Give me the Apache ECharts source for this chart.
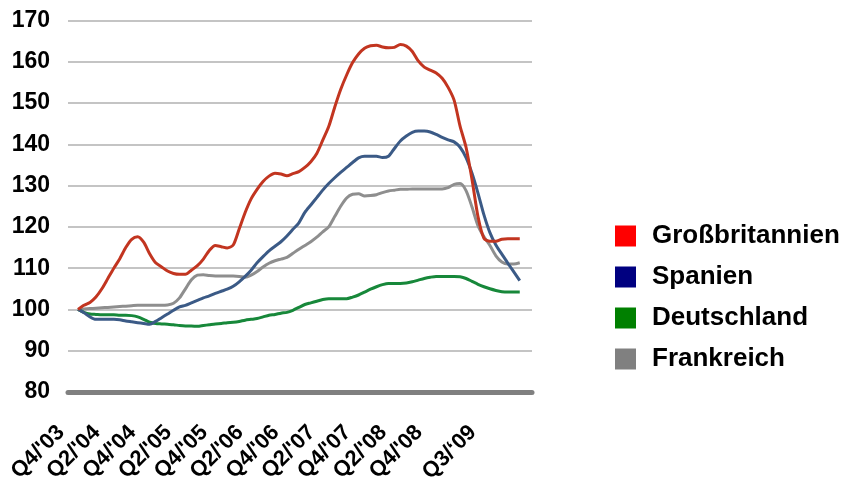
<!DOCTYPE html>
<html>
<head>
<meta charset="utf-8">
<script src="https://cdn.jsdelivr.net/npm/echarts@6/dist/echarts.min.js"></script>
<style>
html,body{margin:0;padding:0;background:#fff;}
#chart{width:845px;height:477px;}
</style>
</head>
<body>
<div id="chart"></div>
<script>
// Months from Q4/'03 (index 0) onwards
var tickLabels = ["Q4/'03","Q2/'04","Q4/'04","Q2/'05","Q4/'05","Q2/'06","Q4/'06","Q2/'07","Q4/'07","Q2/'08","Q4/'08","Q3/\u201809"];
var tickMonths = [0,6,12,18,24,30,36,42,48,54,60,69];

var seriesNames = ["Großbritannien","Spanien","Deutschland","Frankreich"];

var grossbritannien = [100,101,101.7,103,105,107.5,110,112.3,115,117,117.6,116.3,113.5,111.3,110.3,109.3,108.7,108.5,108.5,109.5,110.6,112.2,114.3,115.5,115.2,114.9,115.6,119.5,123.5,126.8,129.1,131,132.3,133,132.8,132.4,132.9,133.4,134.4,135.8,137.8,141,144.3,149,153.3,156.8,159.8,161.9,163.3,163.9,164,163.6,163.4,163.5,164.2,163.8,162.5,160.2,158.7,158,157.3,156,153.8,150.7,144.4,139.3,131.5,122.5,117.2,116.5,116.5,117,117.1,117.1,117.1];
var spanien = [100,99.2,98.2,97.6,97.6,97.6,97.6,97.5,97.2,97,96.8,96.6,96.4,97.1,98,98.9,99.8,100.6,101,101.6,102.2,102.8,103.3,103.9,104.4,104.9,105.6,106.7,108,109.5,111.3,112.8,114.2,115.3,116.4,117.8,119.4,121,123.5,125.3,127.1,128.9,130.5,131.9,133.2,134.4,135.6,136.7,137.1,137.1,137.1,136.8,137.1,139,140.8,142,142.9,143.2,143.2,143,142.4,141.7,141.1,140.6,139.3,136.8,133,128.2,122.9,118.6,115.6,113.4,111.2,109.1,107];
var deutschland = [100,99.3,98.9,98.8,98.7,98.7,98.7,98.6,98.6,98.5,98.2,97.6,96.9,96.6,96.5,96.4,96.3,96.1,96,96,95.9,96.1,96.3,96.5,96.6,96.8,96.9,97.1,97.4,97.6,97.8,98.2,98.6,98.8,99.1,99.3,99.8,100.5,101.2,101.6,102,102.4,102.6,102.6,102.6,102.6,103,103.5,104.2,104.9,105.5,106,106.3,106.3,106.3,106.4,106.7,107.1,107.5,107.8,108,108,108,108,107.9,107.5,106.8,106.1,105.5,105,104.6,104.3,104.2,104.2,104.2];
var frankreich = [100,100.1,100.2,100.3,100.4,100.5,100.6,100.7,100.8,100.9,101,101,101,101,101,101.1,101.5,102.8,105,107.2,108.3,108.4,108.2,108.1,108.1,108.1,108.1,108,107.8,108.3,109.2,110.3,111.2,111.8,112.2,112.6,113.6,114.6,115.5,116.4,117.5,118.8,120,122.5,125,127,127.9,128,127.5,127.6,127.8,128.3,128.7,128.9,129.1,129.1,129.2,129.2,129.2,129.2,129.2,129.2,129.5,130.3,130.5,128.8,124.8,120.3,117.6,115.5,113,111.5,111,111,111.3];

var lineColors = ['#C23520','#3B5A86','#17883A','#8E8E8E'];
var legendColors = ['#FF0000','#000080','#008000','#808080'];
var allValues = [grossbritannien, spanien, deutschland, frankreich];

var FONT = "'Liberation Sans', Arial, sans-serif";

function pairs(arr){ return arr.map(function(v,i){ return [i,v]; }); }

var chart = echarts.init(document.getElementById('chart'), null, {renderer:'canvas'});
chart.setOption({
  animation: false,
  backgroundColor: '#ffffff',
  grid: {left: 68, top: 20.5, width: 464, height: 371.5, containLabel: false, outerBoundsMode: 'none'},
  legend: {
    orient: 'vertical',
    left: 610,
    top: 218,
    icon: 'rect',
    itemWidth: 21,
    itemHeight: 21,
    itemGap: 15,
    itemStyle: {borderWidth: 0},
    textStyle: {fontFamily: FONT, fontSize: 26, fontWeight: 'bold', color: '#000', padding: [0,0,0,11]},
    data: seriesNames.map(function(n,i){ return {name: n, itemStyle: {color: legendColors[i]}}; })
  },
  xAxis: {
    type: 'value',
    min: -1.675,
    max: 76.05,
    axisLine: {show: true, lineStyle: {color: '#808080', width: 5, cap: 'round'}},
    axisTick: {show: false},
    splitLine: {show: false},
    axisLabel: {
      customValues: tickMonths,
      rotate: 45,
      margin: 20,
      padding: [0, 24, 0, 0],
      fontFamily: FONT, fontSize: 22, fontWeight: 'bold', color: '#000',
      formatter: function(v){ var k = tickMonths.indexOf(v); return k >= 0 ? tickLabels[k] : ''; }
    }
  },
  yAxis: {
    type: 'value',
    min: 80, max: 170, interval: 10,
    axisLine: {show: false},
    axisTick: {show: false},
    axisLabel: {margin: 18, fontFamily: FONT, fontSize: 23, fontWeight: 'bold', color: '#000'},
    splitLine: {lineStyle: {color: '#C4C4C4', width: 2}}
  },
  series: seriesNames.map(function(n,i){
    return {
      name: n,
      type: 'line',
      data: pairs(allValues[i]),
      showSymbol: false,
      symbol: 'none',
      smooth: 0.25,
      color: lineColors[i],
      lineStyle: {color: lineColors[i], width: 3},
      z: 10 - i
    };
  })
});
</script>
</body>
</html>
